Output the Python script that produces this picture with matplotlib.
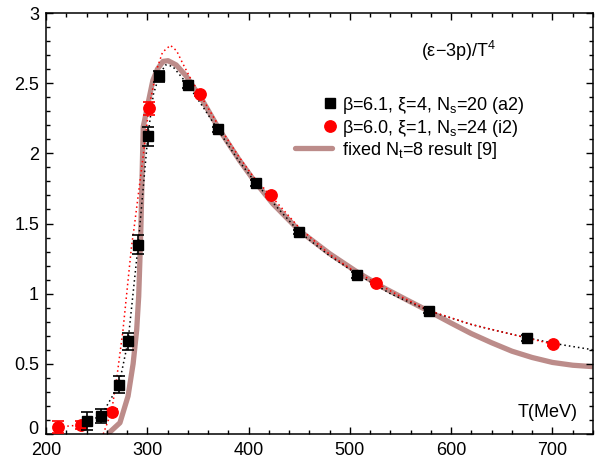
import matplotlib
matplotlib.use("Agg")
import matplotlib.pyplot as plt
from matplotlib.ticker import MultipleLocator, FuncFormatter

plt.rcParams['font.family'] = ['Liberation Sans', 'DejaVu Sans']
plt.rcParams['mathtext.default'] = 'regular'

# ---- data: beta=6.1, xi=4, Ns=20 (a2) ----
T_a2 = [240, 254, 272, 281, 291, 300.5, 312, 340, 369.5, 407, 450, 507, 578, 675]
e_a2 = [0.093, 0.125, 0.35, 0.66, 1.35, 2.12, 2.55, 2.49, 2.17, 1.79, 1.44, 1.135, 0.88, 0.684]
err_a2 = [0.065, 0.05, 0.06, 0.06, 0.07, 0.07, 0.04, 0.025, 0.02, 0.02, 0.015, 0.02, 0.02, 0.02]

# ---- data: beta=6.0, xi=1, Ns=24 (i2) ----
T_i2 = [212, 235, 264.7, 301.5, 352, 421.7, 526, 700.5]
e_i2 = [0.05, 0.065, 0.158, 2.32, 2.42, 1.70, 1.076, 0.64]
err_i2 = [0.045, 0.03, 0.02, 0.045, 0.01, 0.01, 0.01, 0.01]

# ---- fit curve through a2 (black dotted) ----
T_fit_a2 = [240, 254, 272, 281, 291, 300.5, 306, 312, 318, 325, 340, 355, 369.5,
            390, 407, 430, 450, 480, 507, 540, 578, 620, 675, 710, 740]
y_fit_a2 = [0.093, 0.125, 0.35, 0.66, 1.35, 2.12, 2.42, 2.56, 2.63, 2.62, 2.49, 2.33, 2.17,
            1.95, 1.79, 1.60, 1.44, 1.27, 1.14, 1.00, 0.877, 0.78, 0.684, 0.635, 0.60]

# ---- fit curves for i2 (red dotted) ----
T_low_i2 = [212, 235]
y_low_i2 = [0.05, 0.065]
T_fit_i2 = [256.5, 264.7, 269.6, 276, 284.4, 287, 295.9, 301.5, 309, 315, 322.8, 329, 335,
            343, 352, 371, 390, 405, 421.7, 450, 480, 500, 526, 550, 578, 620, 660, 700.5]
y_fit_i2 = [0.0, 0.16, 0.385, 0.74, 1.335, 1.47, 1.98, 2.32, 2.59, 2.72, 2.77, 2.73, 2.64,
            2.53, 2.42, 2.19, 1.98, 1.83, 1.70, 1.47, 1.28, 1.18, 1.076, 0.98, 0.88, 0.78, 0.71, 0.64]

# ---- fixed Nt=8 result [9] (thick brown) ----
T_nt8 = [261, 273, 281, 286, 289.5, 291.5, 292.6, 293.6, 296, 297.5, 300, 305.5, 310, 315.5,
         320.5, 328.5, 338.5, 355, 371, 391, 406, 424, 450, 480, 507, 530, 555, 578, 600,
         620, 640, 660, 680, 700, 720, 740]
y_nt8 = [0.0, 0.08, 0.27, 0.5, 0.74, 0.98, 1.22, 1.45, 2.19, 2.24, 2.33, 2.52, 2.60, 2.655,
         2.66, 2.63, 2.55, 2.37, 2.17, 1.95, 1.80, 1.64, 1.45, 1.285, 1.155, 1.055, 0.96,
         0.875, 0.79, 0.715, 0.65, 0.59, 0.545, 0.51, 0.49, 0.48]

labels = [r"β=6.1, ξ=4, N$_{s}$=20 (a2)",
          r"β=6.0, ξ=1, N$_{s}$=24 (i2)",
          r"fixed N$_{t}$=8 result [9]"]

brown = '#bc8c8a'

fig = plt.figure(figsize=(6.02, 4.59), dpi=100)
ax = fig.add_axes([46/602, 1-434/459, 547/602, 421/459])

ax.plot(T_nt8, y_nt8, color=brown, lw=3.8, solid_capstyle='butt',
        solid_joinstyle='round', zorder=1)
ax.plot(T_fit_a2, y_fit_a2, color='black', lw=1.1, ls=(0, (1, 2)), zorder=2)
ax.plot(T_low_i2, y_low_i2, color='red', lw=1.1, ls=(0, (1, 2)), zorder=2)
ax.plot(T_fit_i2, y_fit_i2, color='red', lw=1.1, ls=(0, (1, 2)), zorder=2)

ax.errorbar(T_i2, e_i2, yerr=err_i2, fmt='o', color='red', ms=8.2, mec='red',
            elinewidth=1.2, capsize=4.5, capthick=1.2, zorder=3)
ax.errorbar(T_a2, e_a2, yerr=err_a2, fmt='s', color='black', ms=6.8,
            elinewidth=1.2, capsize=4.5, capthick=1.2, zorder=4)

ax.set_xlim(200, 740)
ax.set_ylim(0, 3)
ax.xaxis.set_major_locator(MultipleLocator(100))
ax.xaxis.set_minor_locator(MultipleLocator(20))
ax.yaxis.set_major_locator(MultipleLocator(0.5))
ax.yaxis.set_minor_locator(MultipleLocator(0.1))
# "0" is drawn separately, nudged up a little so it clears the "200" label
ax.yaxis.set_major_formatter(FuncFormatter(lambda v, p: "" if abs(v) < 1e-9 else f"{v:g}"))
ax.tick_params(which='both', direction='in', top=True, right=True, labelsize=13, width=1)
ax.tick_params(which='major', length=5)
ax.tick_params(axis='x', which='major', pad=6)
ax.tick_params(axis='y', which='major', pad=5)
ax.tick_params(which='minor', length=3)
for s in ax.spines.values():
    s.set_linewidth(1.1)
ax.annotate("0", xy=(0, 0), xycoords='axes fraction', xytext=(-5.2, 3.5),
            textcoords='offset points', ha='right', va='center', fontsize=13)

# legend (drawn manually to match reference placement)
tr = ax.transAxes
ax.plot([0.519], [0.786], 's', color='black', ms=6.8, transform=tr, clip_on=False)
ax.plot([0.519], [0.7316], 'o', color='red', ms=8.2, transform=tr, clip_on=False)
ax.plot([0.455, 0.523], [0.679, 0.679], color=brown, lw=3.8, transform=tr,
        solid_capstyle='round')
for yb, lab in zip([0.7696, 0.715, 0.6627], labels):
    ax.text(0.541, yb, lab, transform=tr, fontsize=13, ha='left', va='baseline')

ax.text(0.755, 0.8955, r"(ε−3p)/T$^{4}$", transform=tr, fontsize=13,
        ha='center', va='baseline')
ax.text(0.9726, 0.040, "T(MeV)", transform=tr, fontsize=13, ha='right', va='baseline')

fig.savefig("out.png", dpi=100)
